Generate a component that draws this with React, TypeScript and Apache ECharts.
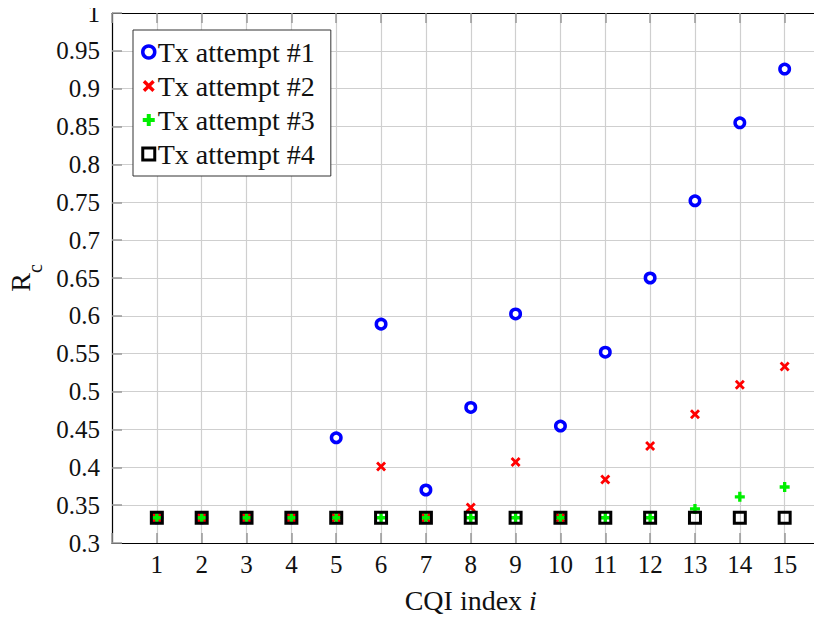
import React, { useEffect, useRef } from "react";
import * as echarts from "echarts";

const cqi = [1, 2, 3, 4, 5, 6, 7, 8, 9, 10, 11, 12, 13, 14, 15];
const tx1 = [0.3333, 0.3333, 0.3333, 0.3333, 0.439, 0.589, 0.37, 0.479, 0.6025, 0.4545, 0.552, 0.65, 0.752, 0.855, 0.926];
const tx2 = [0.3333, 0.3333, 0.3333, 0.3333, 0.3333, 0.401, 0.3333, 0.347, 0.407, 0.3333, 0.384, 0.428, 0.47, 0.509, 0.533];
const tx3 = [0.3333, 0.3333, 0.3333, 0.3333, 0.3333, 0.3333, 0.3333, 0.3333, 0.3333, 0.3333, 0.3333, 0.3333, 0.345, 0.361, 0.374];
const tx4 = [0.3333, 0.3333, 0.3333, 0.3333, 0.3333, 0.3333, 0.3333, 0.3333, 0.3333, 0.3333, 0.3333, 0.3333, 0.3333, 0.3333, 0.3333];
const seriesNames = ["Tx attempt #1", "Tx attempt #2", "Tx attempt #3", "Tx attempt #4"];

const FONT = "'Liberation Serif', 'DejaVu Serif', serif";
const PLUS = "path://M2,0H4V2H6V4H4V6H2V4H0V2H2Z";
const CROSS = "path://M0,1.2L1.2,0L3,1.8L4.8,0L6,1.2L4.2,3L6,4.8L4.8,6L3,4.2L1.2,6L0,4.8L1.8,3Z";

export default function App() {
  const ref = useRef<HTMLDivElement>(null);
  useEffect(() => {
    if (!ref.current) return;
    const chart = echarts.init(ref.current, null, { renderer: "svg" });
    const pts = (arr: number[]) => cqi.map((c, i) => [c, arr[i]]);
    chart.setOption({
      animation: false,
      textStyle: { fontFamily: FONT },
      grid: { left: 112, top: 13, right: 18.5, bottom: 76, containLabel: false, outerBoundsMode: "none" },
      legend: {
        orient: "vertical",
        left: 133,
        top: 30,
        padding: [8, 16, 8, 8],
        itemGap: 6,
        itemWidth: 12,
        itemHeight: 12,
        backgroundColor: "#fff",
        borderColor: "#333",
        borderWidth: 1,
        textStyle: { fontFamily: FONT, fontSize: 28, lineHeight: 27, color: "#111", padding: [0, 0, 0, -2] },
        data: [
          { name: seriesNames[0], icon: "circle", itemStyle: { color: "#fff", borderColor: "#0000ff", borderWidth: 3.5 } },
          { name: seriesNames[1], icon: CROSS, itemStyle: { color: "#ff0000", borderWidth: 0 } },
          { name: seriesNames[2], icon: PLUS, itemStyle: { color: "#00ee00", borderWidth: 0 } },
          { name: seriesNames[3], icon: "rect", itemStyle: { color: "#fff", borderColor: "#000", borderWidth: 3 } },
        ],
      },
      xAxis: [
        {
          type: "value",
          min: 0,
          max: 16,
          interval: 1,
          name: "CQI index {i|i}",
          nameLocation: "middle",
          nameGap: 43,
          nameTextStyle: { fontFamily: FONT, fontSize: 28, color: "#111", rich: { i: { fontFamily: FONT, fontSize: 28, fontStyle: "italic", color: "#111" } } },
          axisLine: { show: true, onZero: false, lineStyle: { color: "#000", width: 1.2 } },
          axisTick: { show: true, inside: true, length: 10, lineStyle: { color: "#999", width: 1.5 } },
          axisLabel: {
            fontFamily: FONT,
            fontSize: 25,
            color: "#111",
            margin: 9,
            formatter: (v: number) => (v >= 1 && v <= 15 ? String(v) : ""),
          },
          splitLine: { show: true, lineStyle: { color: "#cfcfcf", width: 1.2 } },
        },
        {
          type: "value",
          position: "top",
          min: 0,
          max: 16,
          interval: 1,
          axisLine: { show: true, onZero: false, lineStyle: { color: "#000", width: 1.2 } },
          axisTick: { show: true, inside: true, length: 10, lineStyle: { color: "#999", width: 1.5 } },
          axisLabel: { show: false },
          splitLine: { show: false },
        },
      ],
      yAxis: [
        {
          type: "value",
          min: 0.3,
          max: 1,
          interval: 0.05,
          name: "{r|R}{s|c}",
          nameLocation: "middle",
          nameGap: 70,
          nameRotate: 90,
          nameTextStyle: {
            color: "#111",
            rich: {
              r: { fontFamily: FONT, fontSize: 28, color: "#111", lineHeight: 30 },
              s: { fontFamily: FONT, fontSize: 20, color: "#111", lineHeight: 30, verticalAlign: "bottom", padding: [0, 0, -10, 0] },
            },
          },
          axisLine: { show: true, onZero: false, lineStyle: { color: "#000", width: 1.2 } },
          axisTick: { show: true, inside: true, length: 10, lineStyle: { color: "#999", width: 1.5 } },
          axisLabel: {
            fontFamily: FONT,
            fontSize: 25,
            color: "#111",
            margin: 12,
            formatter: (v: number) => String(parseFloat(v.toFixed(2))),
          },
          splitLine: { show: true, lineStyle: { color: "#cfcfcf", width: 1.2 } },
        },
      ],
      series: [
        {
          name: seriesNames[0],
          type: "scatter",
          data: pts(tx1),
          symbol: "circle",
          symbolSize: 9.5,
          itemStyle: { color: "#fff", borderColor: "#0000ff", borderWidth: 3.5, opacity: 1 },
          z: 2,
        },
        {
          name: seriesNames[1],
          type: "scatter",
          data: pts(tx2),
          symbol: CROSS,
          symbolSize: 10,
          itemStyle: { color: "#ff0000", opacity: 1 },
          z: 3,
        },
        {
          name: seriesNames[2],
          type: "scatter",
          data: pts(tx3),
          symbol: PLUS,
          symbolSize: 10,
          itemStyle: { color: "#00ee00", opacity: 1 },
          z: 4,
        },
        {
          name: seriesNames[3],
          type: "scatter",
          data: pts(tx4),
          symbol: "rect",
          symbolSize: 11,
          itemStyle: { color: "rgba(0,0,0,0)", borderColor: "#000", borderWidth: 3, opacity: 1 },
          z: 5,
        },
      ],
    });
    return () => chart.dispose();
  }, []);
  return (
    <div style={{ width: 822, height: 619, overflow: "hidden", position: "relative", margin: "-8px 0 0 -8px" }}>
      <div ref={ref} style={{ width: 848, height: 619 }} />
    </div>
  );
}
